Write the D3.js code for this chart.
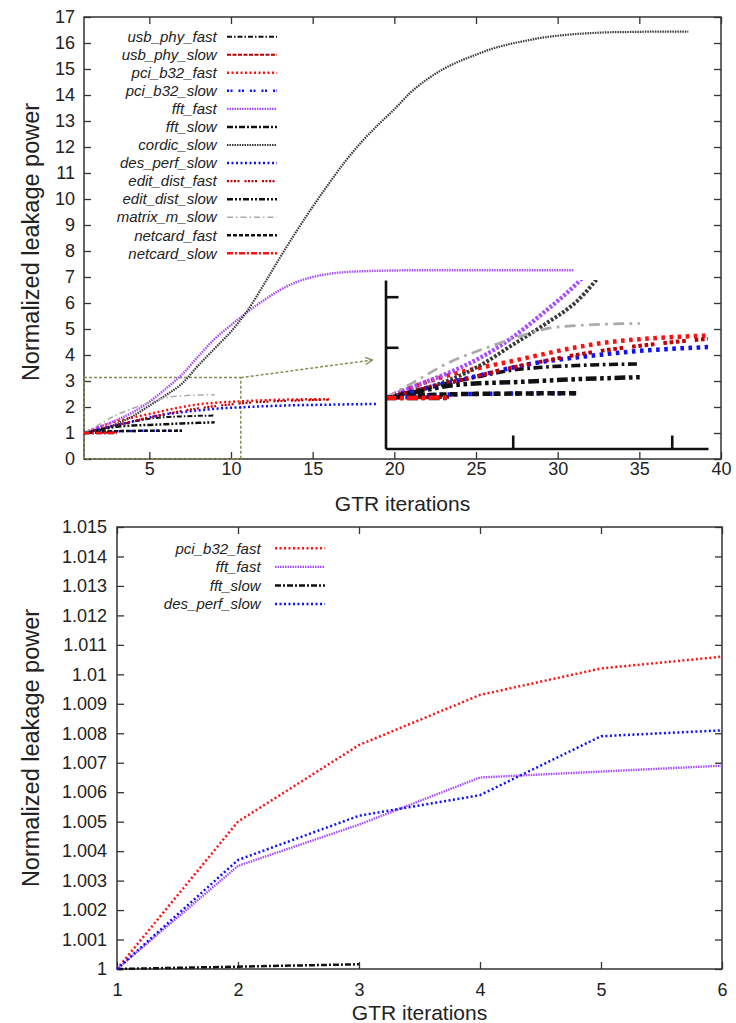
<!DOCTYPE html>
<html>
<head>
<meta charset="utf-8">
<script src="https://cdn.jsdelivr.net/npm/d3@7"></script>
<style>
  body { margin: 0; background: #fff; }
  svg { display: block; }
  text { font-family: "Liberation Sans", Arial, Helvetica, sans-serif; fill: #222; }
</style>
</head>
<body>
<svg id="fig" width="736" height="1023"></svg>
<script>
// ---- Normalized leakage power per GTR iteration (first entry = iteration 1) ----
const usbPhyFast   = [1.00, 1.15, 1.30, 1.43, 1.55, 1.61, 1.64, 1.66, 1.67];
const usbPhySlow   = [1.00, 1.01, 1.02];
const pciB32Fast   = [1.00, 1.25, 1.45, 1.60, 1.73, 1.87, 2.00, 2.10, 2.16, 2.20, 2.23, 2.26, 2.28, 2.29, 2.30, 2.30];
const pciB32Slow   = [1.00, 1.04, 1.065, 1.08, 1.085, 1.09, 1.09];
const fftFast      = [1.00, 1.25, 1.50, 1.80, 2.20, 2.70, 3.25, 3.95, 4.62, 5.15, 5.65, 6.10, 6.50, 6.80, 7.00, 7.12,
                      7.19, 7.22, 7.24, 7.25, 7.26, 7.26, 7.26, 7.26, 7.26, 7.26, 7.26, 7.26, 7.26, 7.26, 7.26];
const fftSlow      = [1.0000, 1.0001, 1.0002];
const cordicSlow   = [1.00, 1.15, 1.35, 1.65, 2.05, 2.45, 2.90, 3.60, 4.25, 4.90, 5.70, 6.70, 7.75, 8.75, 9.70, 10.60,
                      11.45, 12.20, 12.85, 13.45, 14.10, 14.60, 15.00, 15.30, 15.55, 15.78, 15.95, 16.08, 16.20, 16.28,
                      16.34, 16.38, 16.41, 16.42, 16.43, 16.44, 16.44, 16.44];
const desPerfSlow  = [1.00, 1.15, 1.30, 1.45, 1.60, 1.72, 1.80, 1.87, 1.93, 1.97, 2.00, 2.03, 2.05, 2.07, 2.08, 2.09, 2.10, 2.11, 2.12];
const editDistFast = [1.00, 1.15, 1.30, 1.45, 1.60, 1.73, 1.85, 1.95, 2.03, 2.10, 2.16, 2.20, 2.23, 2.25, 2.27, 2.28];
const editDistSlow = [1.00, 1.12, 1.24, 1.29, 1.31, 1.34, 1.37, 1.39, 1.41];
const matrixMSlow  = [1.00, 1.35, 1.70, 1.95, 2.17, 2.36, 2.43, 2.46, 2.47];
const netcardFast  = [1.00, 1.05, 1.07, 1.08, 1.085, 1.09, 1.09];
const netcardSlow  = [1.00, 1.00, 1.01];

// ---- First six iterations, fine scale ----
const detailPciB32Fast  = [1.0000, 1.0050, 1.0076, 1.0093, 1.0102, 1.0106];
const detailFftFast     = [1.0000, 1.0035, 1.0049, 1.0065, 1.0067, 1.0069];
const detailFftSlow     = [1.0000, 1.00008, 1.00016];
const detailDesPerfSlow = [1.0000, 1.0037, 1.0052, 1.0059, 1.0079, 1.0081];

// ---- Axis ticks ----
const topXTicks = [5, 10, 15, 20, 25, 30, 35, 40];
const topYTicks = [0, 1, 2, 3, 4, 5, 6, 7, 8, 9, 10, 11, 12, 13, 14, 15, 16, 17];
const bottomXTicks = [1, 2, 3, 4, 5, 6];
const bottomYTicks = [1, 1.001, 1.002, 1.003, 1.004, 1.005, 1.006, 1.007, 1.008, 1.009, 1.01, 1.011, 1.012, 1.013, 1.014, 1.015];

// ---- Magnified region (data units) and its inset view ----
const zoomRegionX = [1, 10.6];
const zoomRegionY = [0, 3.13];
const insetXDomain = [1, 11.14];
const insetYDomain = [0, 3.33];
const insetXTicks = [5, 10];
const insetYTicks = [2, 3];

// ---- Series tables ----
const topSeries = [
  { name: "usb_phy_fast",   values: usbPhyFast },
  { name: "usb_phy_slow",   values: usbPhySlow },
  { name: "pci_b32_fast",   values: pciB32Fast },
  { name: "pci_b32_slow",   values: pciB32Slow },
  { name: "fft_fast",       values: fftFast },
  { name: "fft_slow",       values: fftSlow },
  { name: "cordic_slow",    values: cordicSlow },
  { name: "des_perf_slow",  values: desPerfSlow },
  { name: "edit_dist_fast", values: editDistFast },
  { name: "edit_dist_slow", values: editDistSlow },
  { name: "matrix_m_slow",  values: matrixMSlow },
  { name: "netcard_fast",   values: netcardFast },
  { name: "netcard_slow",   values: netcardSlow }
];
const bottomSeries = [
  { name: "pci_b32_fast",  values: detailPciB32Fast },
  { name: "fft_fast",      values: detailFftFast },
  { name: "fft_slow",      values: detailFftSlow },
  { name: "des_perf_slow", values: detailDesPerfSlow }
];

// line appearance per benchmark
const styles = {
  usb_phy_fast:   { color: "#111111", width: 2.0, dash: [5, 2, 1.5, 2] },
  usb_phy_slow:   { color: "#b00000", width: 2.2, dash: [4, 1.5] },
  pci_b32_fast:   { color: "#ff1010", width: 2.5, dash: [2, 2.5] },
  pci_b32_slow:   { color: "#1010ff", width: 2.5, dash: [2, 1.5, 2, 6] },
  fft_fast:       { color: "#a64dff", width: 2.4, dash: [1.5, 1] },
  fft_slow:       { color: "#111111", width: 2.5, dash: [6, 2, 2, 2] },
  cordic_slow:    { color: "#3a3a3a", width: 2.2, dash: [1.5, 1] },
  des_perf_slow:  { color: "#1010ff", width: 2.5, dash: [2, 2.5] },
  edit_dist_fast: { color: "#c00000", width: 2.2, dash: [2, 1.5, 2, 1.5, 2, 1.5, 2, 5] },
  edit_dist_slow: { color: "#111111", width: 2.5, dash: [6, 2, 2, 2, 2, 2] },
  matrix_m_slow:  { color: "#aaaaaa", width: 1.5, dash: [6, 3, 1.5, 3] },
  netcard_fast:   { color: "#111111", width: 2.5, dash: [4, 2] },
  netcard_slow:   { color: "#ff1010", width: 2.5, dash: [6, 2, 2, 2] }
};

const svg = d3.select("#fig");
const defs = svg.append("defs");
const olive = "#8a8c55";

function points(values) { return values.map((v, i) => [i + 1, v]); }

function drawSeries(g, s, x, y, k, curve) {
  const st = styles[s.name];
  g.append("path")
    .datum(points(s.values))
    .attr("d", d3.line().x(d => x(d[0])).y(d => y(d[1])).curve(curve))
    .attr("fill", "none")
    .attr("stroke", st.color)
    .attr("stroke-width", st.width * k)
    .attr("stroke-dasharray", st.dash.map(d => d * k).join(","));
}

function legend(g, list, xText, x0, x1, y0, step, size) {
  list.forEach((s, i) => {
    const st = styles[s.name];
    const yy = y0 + i * step;
    g.append("text").attr("x", xText).attr("y", yy).attr("dy", "0.35em")
      .attr("text-anchor", "end").attr("font-style", "italic")
      .attr("font-size", size).text(s.name);
    g.append("line").attr("x1", x0).attr("x2", x1).attr("y1", yy).attr("y2", yy)
      .attr("stroke", st.color).attr("stroke-width", st.width)
      .attr("stroke-dasharray", st.dash.join(","));
  });
}

function styleAxis(g, size) {
  g.select(".domain").remove();
  g.selectAll(".tick line").attr("stroke", "#333").attr("stroke-width", 1.3);
  g.selectAll(".tick text").attr("font-size", size).attr("fill", "#222")
    .attr("font-family", "Liberation Sans, Arial, sans-serif");
}

// =================== Upper chart ===================
const T = { l: 84, r: 721, t: 17, b: 459 };
const xTop = d3.scaleLinear().domain([1, 40]).range([T.l, T.r]);
const yTop = d3.scaleLinear().domain([0, 17]).range([T.b, T.t]);

defs.append("clipPath").attr("id", "clipTop")
  .append("rect").attr("x", T.l).attr("y", T.t).attr("width", T.r - T.l).attr("height", T.b - T.t);

const upper = svg.append("g");

upper.append("g").attr("transform", `translate(${T.l},0)`)
  .call(d3.axisLeft(yTop).tickValues(topYTicks).tickSize(-7).tickPadding(9).tickFormat(d3.format("d")))
  .call(g => styleAxis(g, 18));
upper.append("g").attr("transform", `translate(${T.r},0)`)
  .call(d3.axisRight(yTop).tickValues(topYTicks).tickSize(-7).tickFormat(""))
  .call(g => styleAxis(g, 18));
upper.append("g").attr("transform", `translate(0,${T.b})`)
  .call(d3.axisBottom(xTop).tickValues(topXTicks).tickSize(-7).tickPadding(3).tickFormat(d3.format("d")))
  .call(g => styleAxis(g, 18));
upper.append("g").attr("transform", `translate(0,${T.t})`)
  .call(d3.axisTop(xTop).tickValues(topXTicks).tickSize(-7).tickFormat(""))
  .call(g => styleAxis(g, 18));

upper.append("rect").attr("x", T.l).attr("y", T.t).attr("width", T.r - T.l).attr("height", T.b - T.t)
  .attr("fill", "none").attr("stroke", "#333").attr("stroke-width", 1.5);

upper.append("text").attr("x", (T.l + T.r) / 2).attr("y", 511).attr("text-anchor", "middle")
  .attr("font-size", 21).text("GTR iterations");
upper.append("text").attr("transform", `translate(39,${(T.t + T.b) / 2 + 4}) rotate(-90)`)
  .attr("text-anchor", "middle").attr("font-size", 23.5).text("Normalized leakage power");

// magnified region outline
const zx0 = xTop(zoomRegionX[0]), zx1 = xTop(zoomRegionX[1]);
const zy0 = yTop(zoomRegionY[0]), zy1 = yTop(zoomRegionY[1]);
upper.append("rect").attr("x", zx0).attr("y", zy1).attr("width", zx1 - zx0).attr("height", zy0 - zy1)
  .attr("fill", "none").attr("stroke", olive).attr("stroke-width", 1.5).attr("stroke-dasharray", "3,2");

const topLines = upper.append("g").attr("clip-path", "url(#clipTop)");
topSeries.forEach(s => drawSeries(topLines, s, xTop, yTop, 1, d3.curveMonotoneX));

legend(upper.append("g"), topSeries, 216.7, 227, 277, 36.7, 18.05, 15);

// ---- inset: magnified view of the outlined region ----
const I = { l: 385.5, r: 708, t: 280, b: 448.5 };
const xIn = d3.scaleLinear().domain(insetXDomain).range([I.l, I.r]);
const yIn = d3.scaleLinear().domain(insetYDomain).range([I.b, I.t]);

defs.append("clipPath").attr("id", "clipInset")
  .append("rect").attr("x", I.l).attr("y", I.t).attr("width", I.r - I.l).attr("height", I.b - I.t);

// arrow from the outlined region to the inset
defs.append("marker").attr("id", "arrowHead").attr("viewBox", "0 0 10 10")
  .attr("refX", 9).attr("refY", 5).attr("markerWidth", 9).attr("markerHeight", 9)
  .attr("markerUnits", "userSpaceOnUse").attr("orient", "auto")
  .append("path").attr("d", "M1,1 L9,5 L1,9").attr("fill", "none").attr("stroke", olive).attr("stroke-width", 1.5);
upper.append("line").attr("x1", zx1).attr("y1", zy1).attr("x2", I.l - 13).attr("y2", 360)
  .attr("stroke", olive).attr("stroke-width", 1.5).attr("stroke-dasharray", "3,2")
  .attr("marker-end", "url(#arrowHead)");

const insetLines = upper.append("g").attr("clip-path", "url(#clipInset)");
topSeries.forEach(s => drawSeries(insetLines, s, xIn, yIn, 1.8, d3.curveMonotoneX));

const insetAxis = g => {
  g.select(".domain").attr("stroke", "#111").attr("stroke-width", 2.6);
  g.selectAll(".tick line").attr("stroke", "#111").attr("stroke-width", 2.6);
};
upper.append("g").attr("transform", `translate(0,${I.b})`)
  .call(d3.axisBottom(xIn).tickValues(insetXTicks).tickSize(-13).tickSizeOuter(0).tickFormat(""))
  .call(insetAxis);
upper.append("g").attr("transform", `translate(${I.l},0)`)
  .call(d3.axisLeft(yIn).tickValues(insetYTicks).tickSize(-13).tickSizeOuter(0).tickFormat(""))
  .call(insetAxis);

// =================== Lower chart ===================
const B = { l: 117, r: 722, t: 527, b: 969 };
const xBot = d3.scaleLinear().domain([1, 6]).range([B.l, B.r]);
const yBot = d3.scaleLinear().domain([1, 1.015]).range([B.b, B.t]);
const fmtBot = v => String(+v.toFixed(3));

const lower = svg.append("g");
lower.append("g").attr("transform", `translate(${B.l},0)`)
  .call(d3.axisLeft(yBot).tickValues(bottomYTicks).tickSize(-7).tickPadding(10).tickFormat(fmtBot))
  .call(g => styleAxis(g, 18));
lower.append("g").attr("transform", `translate(${B.r},0)`)
  .call(d3.axisRight(yBot).tickValues(bottomYTicks).tickSize(-7).tickFormat(""))
  .call(g => styleAxis(g, 18));
lower.append("g").attr("transform", `translate(0,${B.b})`)
  .call(d3.axisBottom(xBot).tickValues(bottomXTicks).tickSize(-7).tickPadding(14).tickFormat(d3.format("d")))
  .call(g => styleAxis(g, 18));
lower.append("g").attr("transform", `translate(0,${B.t})`)
  .call(d3.axisTop(xBot).tickValues(bottomXTicks).tickSize(-7).tickFormat(""))
  .call(g => styleAxis(g, 18));
lower.append("rect").attr("x", B.l).attr("y", B.t).attr("width", B.r - B.l).attr("height", B.b - B.t)
  .attr("fill", "none").attr("stroke", "#333").attr("stroke-width", 1.5);

lower.append("text").attr("x", (B.l + B.r) / 2).attr("y", 1020).attr("text-anchor", "middle")
  .attr("font-size", 21).text("GTR iterations");
lower.append("text").attr("transform", `translate(39,${(B.t + B.b) / 2}) rotate(-90)`)
  .attr("text-anchor", "middle").attr("font-size", 23.5).text("Normalized leakage power");

const botLines = lower.append("g");
bottomSeries.forEach(s => drawSeries(botLines, s, xBot, yBot, 1, d3.curveLinear));

legend(lower.append("g"), bottomSeries, 260.6, 275, 325, 548.3, 18.6, 15);
</script>
</body>
</html>
